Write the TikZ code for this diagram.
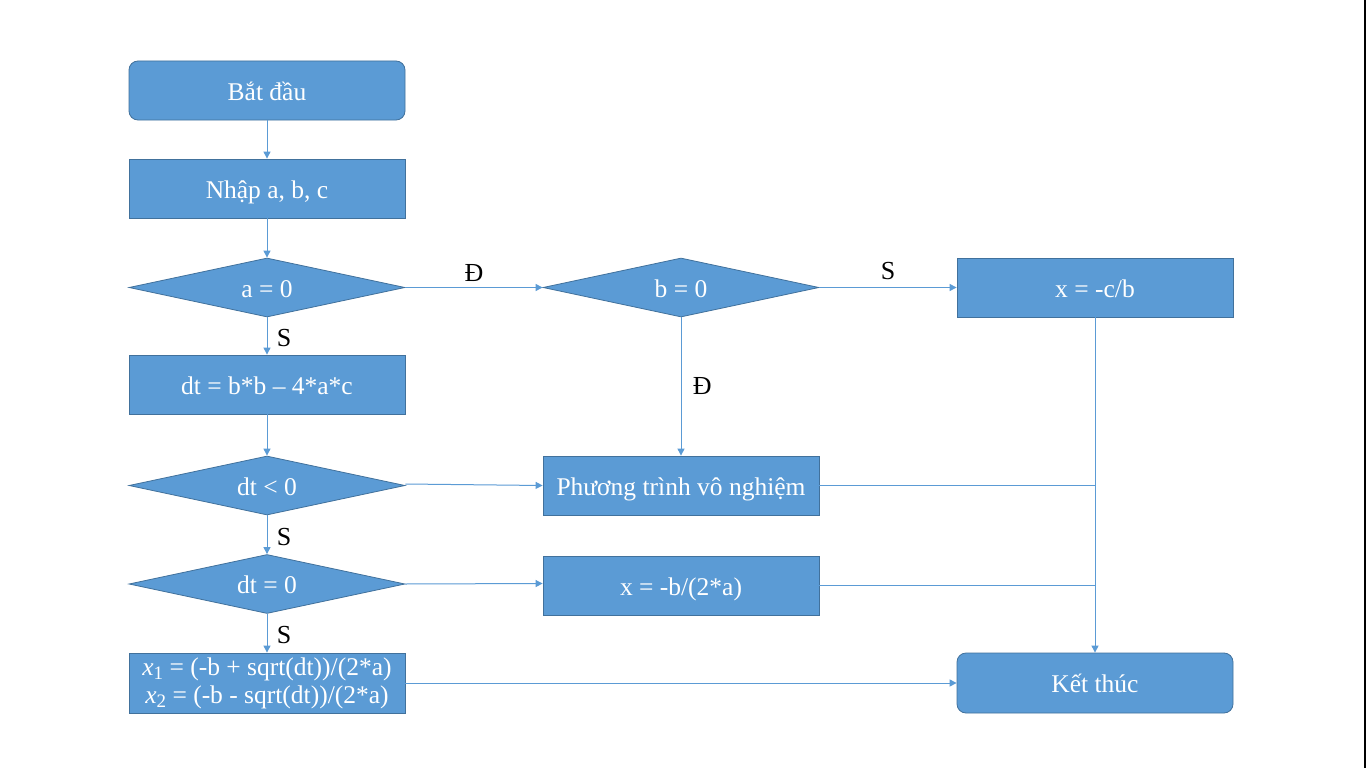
\documentclass[tikz,border=0pt]{standalone}
\usepackage{fontspec}
\setmainfont{Liberation Serif}
\usetikzlibrary{arrows.meta,shapes.geometric}
\definecolor{boxfill}{HTML}{5B9BD5}
\definecolor{boxline}{HTML}{41719C}
\begin{document}
\begin{tikzpicture}[x=1pt,y=-1pt,
  base/.style={fill=boxfill,draw=boxline,line width=0.8pt,text=white,font=\fontsize{25.5}{29}\selectfont,minimum width=276pt,inner sep=0pt,text height=22pt,text depth=3pt},
  proc/.style={base,rectangle,minimum height=59pt},
  term/.style={base,rectangle,rounded corners=9pt,minimum height=59pt},
  dec/.style={base,diamond,aspect=4.68,minimum width=276pt,minimum height=59pt},
  conn/.style={draw=boxfill,line width=1pt},
  arr/.style={conn,-{Triangle[width=7pt,length=7pt]}},
  lab/.style={font=\fontsize{26}{29}\selectfont,text=black}]
\fill[white] (0,0) rectangle (1366,768);
\useasboundingbox (0,0) rectangle (1366,768);
\fill[black] (1363.5,0) rectangle (1366,768);

\node[term] (start) at (267,90.5) {Bắt đầu};
\node[proc] (input) at (267,188.5) {Nhập a, b, c};
\node[dec] (a0) at (267,287.5) {a = 0};
\node[proc] (dt) at (267,384.5) {dt = b*b – 4*a*c};
\node[dec] (dtneg) at (267,485.5) {dt < 0};
\node[dec] (dtzero) at (267,584) {dt = 0};
\node[proc,minimum height=60pt,align=center,text height=,text depth=] (two) at (267,683)
  {\textit{x}\raisebox{-0.35ex}{\fontsize{19}{20}\selectfont 1} = (-b + sqrt(dt))/(2*a)\\[-1pt]
   \textit{x}\raisebox{-0.35ex}{\fontsize{19}{20}\selectfont 2} = (-b - sqrt(dt))/(2*a)};
\node[dec] (b0) at (681,287.5) {b = 0};
\node[proc] (xcb) at (1095,287.5) {x = -c/b};
\node[proc] (none) at (681,485.5) {Phương trình vô nghiệm};
\node[proc] (one) at (681,585.5) {x = -b/(2*a)};
\node[term,minimum height=60pt] (end) at (1095,683) {Kết thúc};

\coordinate (j1) at (1095,485.5);
\coordinate (j2) at (1095,585.5);

\draw[arr] (start) -- (input);
\draw[arr] (input) -- (a0);
\draw[arr] (a0) -- node[lab,right,xshift=6pt,yshift=-2pt] {S} (dt);
\draw[arr] (dt) -- (dtneg);
\draw[arr] (dtneg) -- node[lab,right,xshift=6pt,yshift=-2pt] {S} (dtzero);
\draw[arr] (dtzero) -- node[lab,right,xshift=6pt,yshift=-2pt] {S} (two);
\draw[arr] (a0.east) -- node[lab,above,xshift=0pt,yshift=2pt] {Đ} (b0.west);
\draw[arr] (b0.east) -- node[lab,above,xshift=0pt,yshift=4pt] {S} (xcb.west);
\draw[arr] (b0.south) -- node[lab,right,xshift=8pt] {Đ} (none.north);
\draw[arr] ([yshift=1.5pt]dtneg.east) -- ([yshift=0pt]none.west);
\draw[arr] ([yshift=0pt]dtzero.east) -- ([yshift=2pt]one.west);
\draw[conn] (none.east) -- (j1);
\draw[conn] (one.east) -- (j2);
\draw[arr] (xcb.south) -- (end.north);
\draw[arr] (two.east) -- (end.west);
\end{tikzpicture}
\end{document}
